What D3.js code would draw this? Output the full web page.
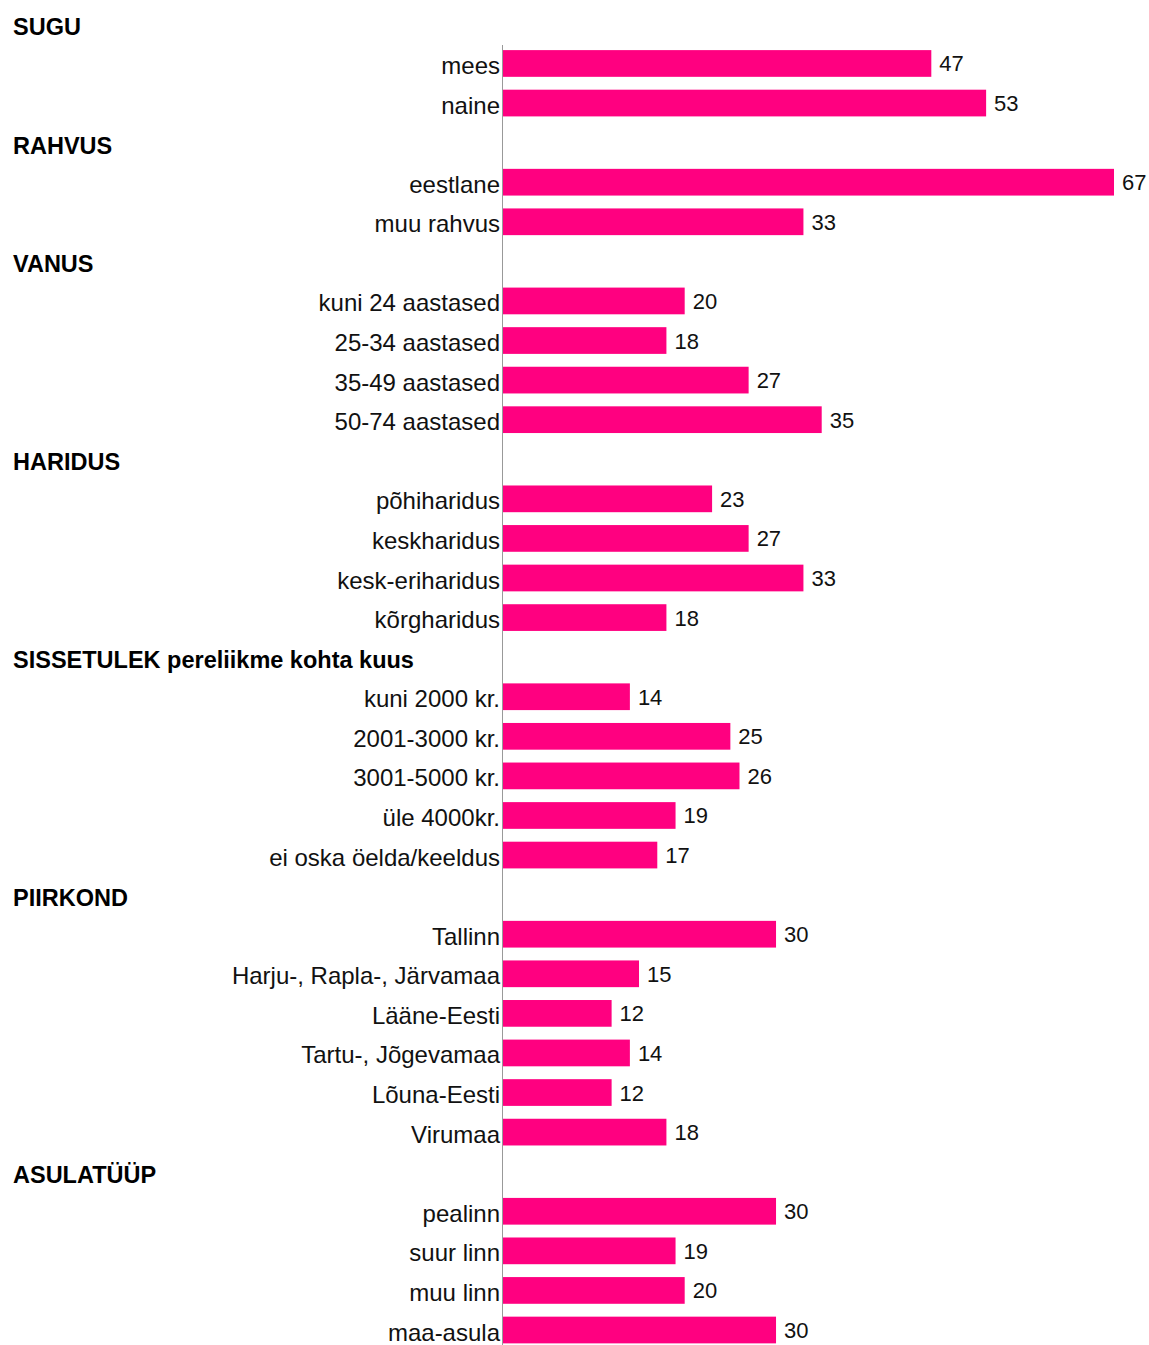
<!DOCTYPE html>
<html>
<head>
<meta charset="utf-8">
<script src="https://cdn.jsdelivr.net/npm/d3@7"></script>
<style>
  body { margin: 0; background: #fff; }
  svg { display: block; font-family: "Liberation Sans", Arial, sans-serif; }
</style>
</head>
<body>
<svg id="chart"></svg>
<script>
// group headers, their categories and the values (%)
const groupNames = ["SUGU", "RAHVUS", "VANUS", "HARIDUS", "SISSETULEK pereliikme kohta kuus", "PIIRKOND", "ASULATÜÜP"];
const categories = [
  ["mees", "naine"],
  ["eestlane", "muu rahvus"],
  ["kuni 24 aastased", "25-34 aastased", "35-49 aastased", "50-74 aastased"],
  ["põhiharidus", "keskharidus", "kesk-eriharidus", "kõrgharidus"],
  ["kuni 2000 kr.", "2001-3000 kr.", "3001-5000 kr.", "üle 4000kr.", "ei oska öelda/keeldus"],
  ["Tallinn", "Harju-, Rapla-, Järvamaa", "Lääne-Eesti", "Tartu-, Jõgevamaa", "Lõuna-Eesti", "Virumaa"],
  ["pealinn", "suur linn", "muu linn", "maa-asula"]
];
const values = [
  [47, 53],
  [67, 33],
  [20, 18, 27, 35],
  [23, 27, 33, 18],
  [14, 25, 26, 19, 17],
  [30, 15, 12, 14, 12, 18],
  [30, 19, 20, 30]
];

const width = 1149;
const height = 1345;

// flatten into rows: header rows followed by their bar rows
const rows = [];
groupNames.forEach((g, gi) => {
  rows.push({ type: "header", label: g });
  categories[gi].forEach((c, ci) => rows.push({ type: "bar", label: c, value: values[gi][ci] }));
});

const svg = d3.select("#chart").attr("width", width).attr("height", height);

const x = d3.scaleLinear()
  .domain([0, 67])
  .range([502, 1114]);

const y = d3.scaleBand()
  .domain(rows.map((d, i) => i))
  .range([4.1, 1349.8])
  .paddingInner(0.325)
  .paddingOuter(0.1625);

const mid = i => y(i) + y.bandwidth() / 2;

const bars = rows.map((d, i) => ({ ...d, i })).filter(d => d.type === "bar");
const headers = rows.map((d, i) => ({ ...d, i })).filter(d => d.type === "header");

// bars
svg.selectAll("rect.bar")
  .data(bars)
  .enter()
  .append("rect")
  .attr("class", "bar")
  .attr("x", x(0))
  .attr("y", d => y(d.i))
  .attr("width", d => x(d.value) - x(0))
  .attr("height", y.bandwidth())
  .attr("fill", "#ff0080");

// vertical axis line
svg.append("line")
  .attr("x1", x(0) + 0.5)
  .attr("x2", x(0) + 0.5)
  .attr("y1", 45)
  .attr("y2", height)
  .attr("stroke", "#999")
  .attr("stroke-width", 1);

// category labels
svg.selectAll("text.cat")
  .data(bars)
  .enter()
  .append("text")
  .attr("class", "cat")
  .attr("x", x(0) - 2)
  .attr("y", d => mid(d.i) + 10.5)
  .attr("text-anchor", "end")
  .style("font-size", "24px")
  .attr("fill", "#111")
  .text(d => d.label);

// value labels
svg.selectAll("text.val")
  .data(bars)
  .enter()
  .append("text")
  .attr("class", "val")
  .attr("x", d => x(d.value) + 8)
  .attr("y", d => mid(d.i) + 8)
  .style("font-size", "22px")
  .attr("fill", "#111")
  .text(d => d.value);

// group headers
svg.selectAll("text.head")
  .data(headers)
  .enter()
  .append("text")
  .attr("class", "head")
  .attr("x", 13)
  .attr("y", d => mid(d.i) + 11)
  .style("font-size", "23.5px")
  .style("font-weight", "bold")
  .attr("fill", "#000")
  .text(d => d.label);
</script>
</body>
</html>
